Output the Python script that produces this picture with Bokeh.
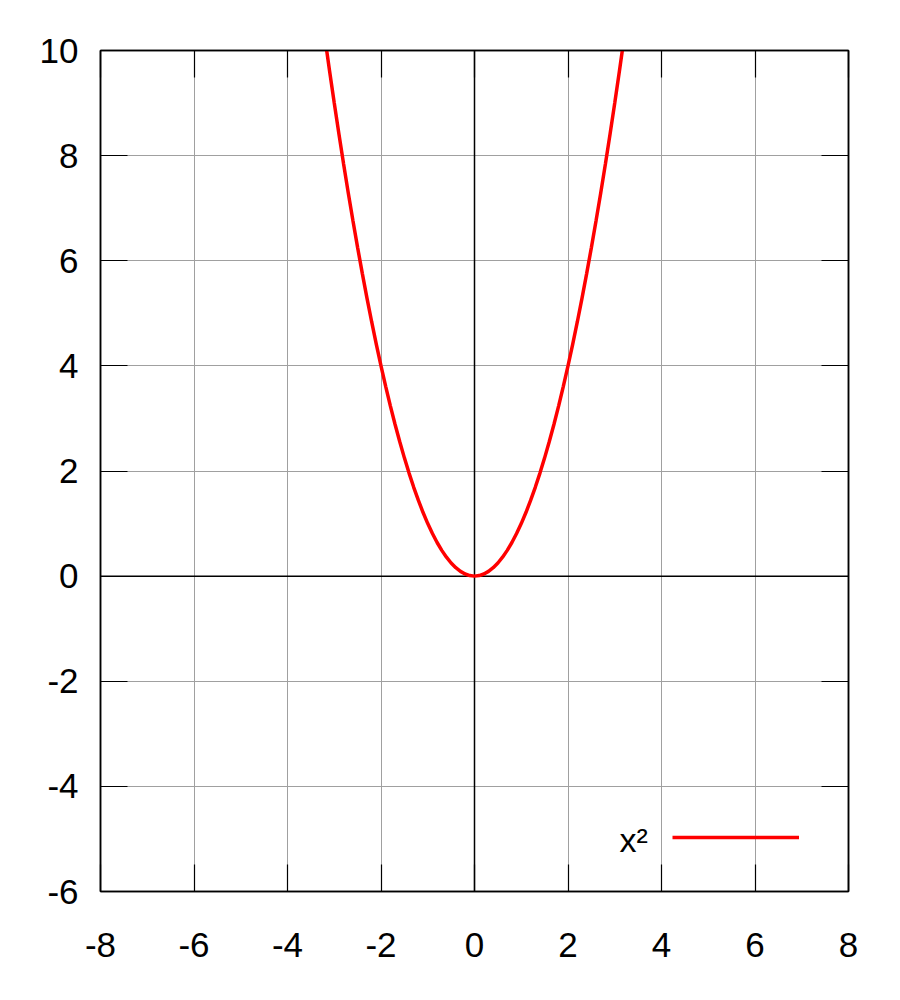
from bokeh.plotting import figure
from bokeh.models import (Range1d, FixedTicker, LinearAxis, Span, Label, Legend, LegendItem,
                          CustomLabelingPolicy)
from bokeh.embed import file_html
from bokeh.resources import INLINE

# data (y = x^2 curve)
xs = [-3.2, -3.1, -3.0, -2.9, -2.8, -2.7, -2.6, -2.5, -2.4, -2.3, -2.2, -2.1, -2.0,
      -1.9, -1.8, -1.7, -1.6, -1.5, -1.4, -1.3, -1.2, -1.1, -1.0, -0.9, -0.8, -0.7,
      -0.6, -0.5, -0.4, -0.3, -0.2, -0.1, 0.0, 0.1, 0.2, 0.3, 0.4, 0.5, 0.6, 0.7,
      0.8, 0.9, 1.0, 1.1, 1.2, 1.3, 1.4, 1.5, 1.6, 1.7, 1.8, 1.9, 2.0, 2.1, 2.2,
      2.3, 2.4, 2.5, 2.6, 2.7, 2.8, 2.9, 3.0, 3.1, 3.2]
ys = [10.24, 9.61, 9.0, 8.41, 7.84, 7.29, 6.76, 6.25, 5.76, 5.29, 4.84, 4.41, 4.0,
      3.61, 3.24, 2.89, 2.56, 2.25, 1.96, 1.69, 1.44, 1.21, 1.0, 0.81, 0.64, 0.49,
      0.36, 0.25, 0.16, 0.09, 0.04, 0.01, 0.0, 0.01, 0.04, 0.09, 0.16, 0.25, 0.36, 0.49,
      0.64, 0.81, 1.0, 1.21, 1.44, 1.69, 1.96, 2.25, 2.56, 2.89, 3.24, 3.61, 4.0, 4.41, 4.84,
      5.29, 5.76, 6.25, 6.76, 7.29, 7.84, 8.41, 9.0, 9.61, 10.24]
series_label = "x²"
x_ticks = [-8, -6, -4, -2, 0, 2, 4, 6, 8]
y_ticks = [-6, -4, -2, 0, 2, 4, 6, 8, 10]
x_tick_labels = ["-8", "-6", "-4", "-2", "0", "2", "4", "6", "8"]
y_tick_labels = ["-6", "-4", "-2", "0", "2", "4", "6", "8", "10"]

FONT = "Liberation Sans"
FSIZE = "35px"

p = figure(width=891, height=986, output_backend="svg", toolbar_location=None,
           x_range=Range1d(-8, 8), y_range=Range1d(-6, 10),
           x_axis_location=None, y_axis_location=None,
           min_border_left=100, min_border_right=42, min_border_top=50, min_border_bottom=95)
p.outline_line_color = "black"
p.outline_line_width = 1.5
p.background_fill_color = "white"
p.border_fill_color = "white"

xt = FixedTicker(ticks=x_ticks, minor_ticks=[])
yt = FixedTicker(ticks=y_ticks, minor_ticks=[])

def style_axis(ax, standoff):
    ax.major_tick_in = 27
    ax.major_tick_out = 0
    ax.minor_tick_in = 0
    ax.minor_tick_out = 0
    ax.major_tick_line_color = "black"
    ax.major_tick_line_width = 1.2
    ax.axis_line_color = "black"
    ax.axis_line_width = 1.5
    ax.major_label_text_font = FONT
    ax.major_label_text_color = "black"
    ax.major_label_standoff = standoff
    ax.major_label_text_font_size = FSIZE

bottom = LinearAxis(ticker=xt, major_label_overrides=dict(zip(x_ticks, x_tick_labels)))
style_axis(bottom, 41)
left = LinearAxis(ticker=yt, major_label_overrides=dict(zip(y_ticks, y_tick_labels)))
style_axis(left, 22)
# mirror axes: ticks only, no labels drawn
top = LinearAxis(ticker=xt, major_label_policy=CustomLabelingPolicy(code="return"))
style_axis(top, 0)
right = LinearAxis(ticker=yt, major_label_policy=CustomLabelingPolicy(code="return"))
style_axis(right, 0)
p.add_layout(bottom, "below")
p.add_layout(left, "left")
p.add_layout(top, "above")
p.add_layout(right, "right")

p.xgrid.ticker = xt
p.ygrid.ticker = yt
p.xgrid.grid_line_color = "#a0a0a0"
p.ygrid.grid_line_color = "#a0a0a0"
p.xgrid.grid_line_width = 1
p.ygrid.grid_line_width = 1

p.add_layout(Span(location=0, dimension="height", line_color="black", line_width=1.5, level="underlay"))
p.add_layout(Span(location=0, dimension="width", line_color="black", line_width=1.5, level="underlay"))

r = p.line(xs, ys, line_color="#ff0000", line_width=3.5)

# gnuplot-style key: sample line from the legend, its title to the left
legend = Legend(items=[LegendItem(label=" ", renderers=[r])],
                location=(572, 44), orientation="vertical",
                glyph_width=127, glyph_height=20, label_standoff=0,
                label_text_font_size="10px", label_width=1,
                padding=0, margin=0, spacing=0,
                border_line_alpha=0, background_fill_alpha=0)
p.add_layout(legend, "center")

p.add_layout(Label(x=3.71, y=-5.02, text=series_label, text_font=FONT, text_font_size="34px",
                   text_align="right", text_baseline="middle", text_color="black"))

open("out.html", "w").write(file_html(p, INLINE))
